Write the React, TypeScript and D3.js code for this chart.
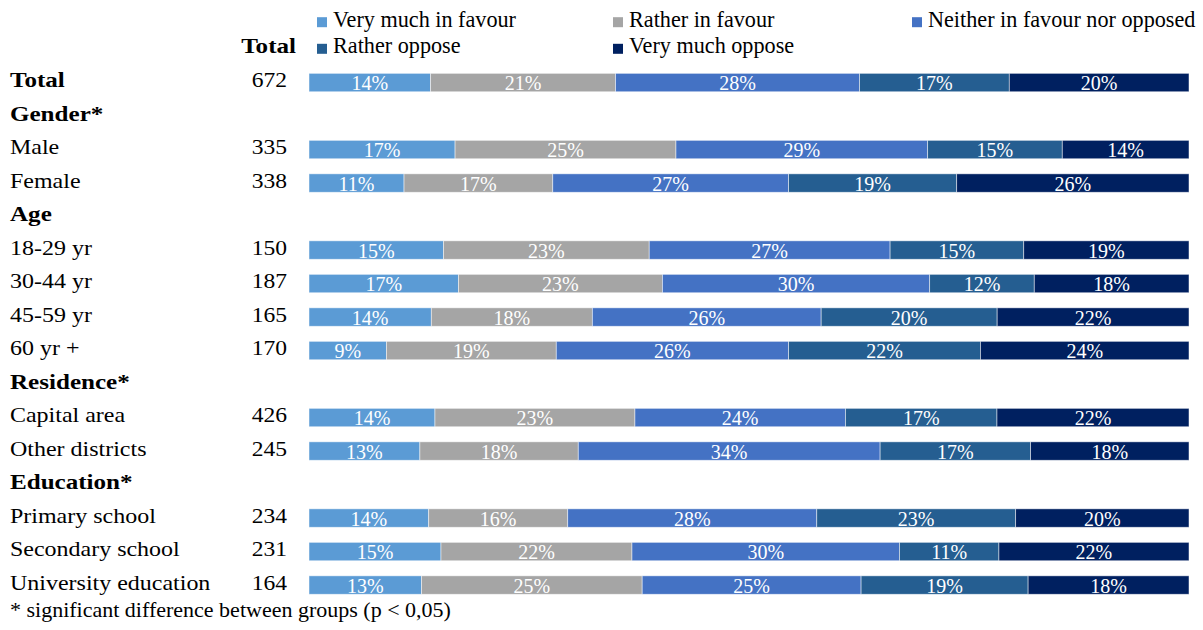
import React from "react";
import * as d3 from "d3";

const rowLabels = [
  "Total",
  "Gender*",
  "Male",
  "Female",
  "Age",
  "18-29 yr",
  "30-44 yr",
  "45-59 yr",
  "60 yr +",
  "Residence*",
  "Capital area",
  "Other districts",
  "Education*",
  "Primary school",
  "Secondary school",
  "University education",
];
const boldRows = ["Total", "Gender*", "Age", "Residence*", "Education*"];
const sampleSizes = [672, null, 335, 338, null, 150, 187, 165, 170, null, 426, 245, null, 234, 231, 164];

const seriesNames = [
  "Very much in favour",
  "Rather in favour",
  "Neither in favour nor opposed",
  "Rather oppose",
  "Very much oppose",
];
const seriesColors = ["#5B9BD5", "#A5A5A5", "#4472C4", "#255E91", "#002060"];

const veryMuchInFavour = [13.8, null, 16.6, 10.8, null, 15.3, 17.0, 13.9, 8.8, null, 14.3, 12.6, null, 13.6, 15.0, 12.8];
const ratherInFavour = [21.0, null, 25.1, 16.9, null, 23.4, 23.2, 18.3, 19.3, null, 22.7, 18.0, null, 15.8, 21.7, 25.1];
const neitherNor = [27.7, null, 28.6, 26.8, null, 27.4, 30.4, 26.0, 26.4, null, 23.9, 34.3, null, 28.3, 30.4, 24.9];
const ratherOppose = [17.0, null, 15.3, 19.1, null, 15.2, 11.9, 20.0, 21.8, null, 17.2, 17.1, null, 22.6, 11.3, 19.0];
const veryMuchOppose = [20.4, null, 14.4, 26.4, null, 18.8, 17.6, 21.8, 23.7, null, 21.8, 18.0, null, 19.7, 21.6, 18.3];

const seriesValues = [veryMuchInFavour, ratherInFavour, neitherNor, ratherOppose, veryMuchOppose];

const FONT = "'Liberation Serif', 'Times New Roman', serif";

export default function App() {
  const width = 1203;
  const height = 630;

  const x = d3.scaleLinear().domain([0, 1]).range([309, 1189]);
  const y = d3
    .scaleBand<string>()
    .domain(rowLabels)
    .range([65.8, 601.8])
    .paddingInner(0.45)
    .paddingOuter(0.225);

  const tableRows = rowLabels
    .map((label, i) => {
      const row: any = { label };
      seriesNames.forEach((s, k) => {
        row[s] = seriesValues[k][i];
      });
      return { row, i };
    })
    .filter(({ i }) => sampleSizes[i] !== null)
    .map(({ row }) => row);

  const stacked = d3
    .stack<any>()
    .keys(seriesNames)
    .offset(d3.stackOffsetExpand)(tableRows);

  const legendCols = [317, 613, 912];
  const legendRows = [26.7, 53.3];

  return (
    <svg
      width={width}
      height={height}
      style={{ position: "absolute", left: 0, top: 0, background: "#fff" }}
      fontFamily={FONT}
    >
      <rect x={0} y={0} width={width} height={height} fill="#fff" />
      {/* Legend */}
      {seriesNames.map((s, k) => {
        const col = k % 3;
        const row = Math.floor(k / 3);
        const lx = legendCols[col];
        const ly = legendRows[row];
        return (
          <g key={s}>
            <rect x={lx} y={ly - 9.5} width={10} height={10} fill={seriesColors[k]} />
            <text x={lx + 16} y={ly} fontSize={22.2} fill="#000">
              {s}
            </text>
          </g>
        );
      })}
      {/* Column header */}
      <text
        transform={`translate(296,53.3) scale(1.14,1)`}
        fontSize={22}
        fontWeight="bold"
        textAnchor="end"
        fill="#000"
      >
        Total
      </text>
      {/* Row labels and counts */}
      {rowLabels.map((label, i) => {
        const top = y(label)!;
        const bold = boldRows.includes(label);
        return (
          <g key={label}>
            <text
              transform={`translate(10,${top + 14}) scale(${bold ? 1.14 : 1.09},1)`}
              fontSize={22}
              fontWeight={bold ? "bold" : "normal"}
              fill="#000"
            >
              {label}
            </text>
            {sampleSizes[i] !== null && (
              <text
                transform={`translate(287,${top + 14}) scale(1.07,1)`}
                fontSize={22}
                textAnchor="end"
                fill="#000"
              >
                {sampleSizes[i]}
              </text>
            )}
          </g>
        );
      })}
      {/* Bars */}
      {stacked.map((layer, k) => (
        <g key={layer.key}>
          {layer.map((d) => {
            const label = d.data.label;
            const top = y(label)!;
            const x0 = x(d[0]);
            const x1 = x(d[1]);
            const raw = d.data[layer.key] as number;
            return (
              <g key={label}>
                <rect
                  x={x0}
                  y={top}
                  width={x1 - x0}
                  height={y.bandwidth()}
                  fill={seriesColors[k]}
                  stroke="#ffffff"
                  strokeOpacity={0.6}
                  strokeWidth={0.8}
                />
                <text
                  x={(x0 + x1) / 2}
                  y={top + 17}
                  fontSize={20}
                  textAnchor="middle"
                  fill="#ffffff"
                >
                  {`${Math.round(raw)}%`}
                </text>
              </g>
            );
          })}
        </g>
      ))}
      {/* Footnote */}
      <text x={10} y={616.7} fontSize={22} fill="#000">
        * significant difference between groups (p &lt; 0,05)
      </text>
    </svg>
  );
}
